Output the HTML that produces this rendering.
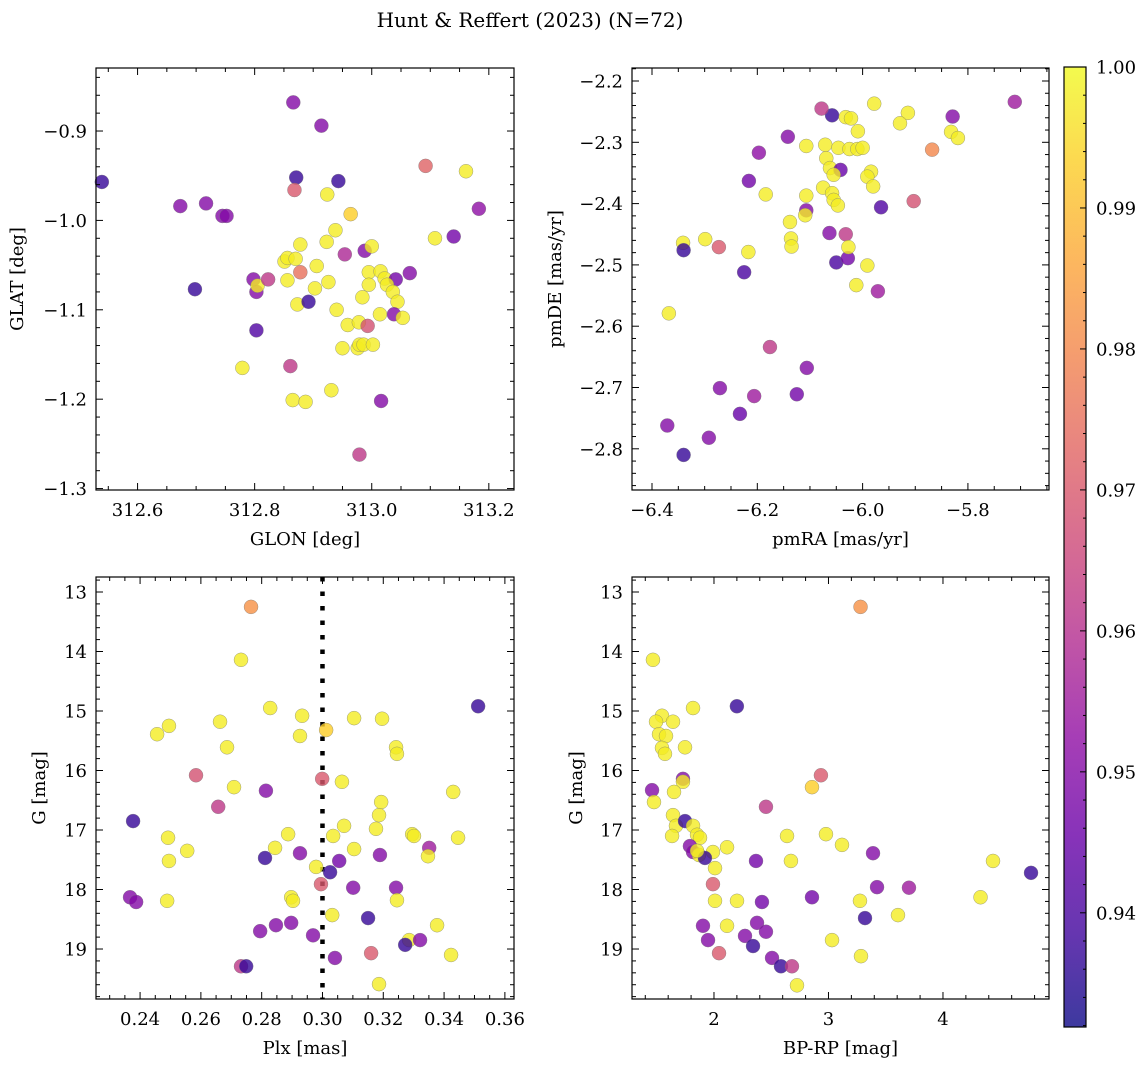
<!DOCTYPE html>
<html><head><meta charset="utf-8">
<style>
html,body{margin:0;padding:0;background:#fff;}
svg{display:block;font-family:"DejaVu Serif","Liberation Serif",serif;}
</style></head>
<body>
<svg id="fig" width="1148" height="1067" viewBox="0 0 1148 1067" xmlns="http://www.w3.org/2000/svg">
<text x="530" y="27" font-size="20" text-anchor="middle">Hunt &amp; Reffert (2023) (N=72)</text>
</svg>
<script>
// ---- Panel 1: GLON vs GLAT ----
const p1Glon=[312.539,312.673,312.717,312.745,312.752,312.698,312.798,312.803,312.803,312.805,312.823,312.779,312.866,312.871,312.868,312.914,312.943,312.924,312.964,313.092,313.161,313.183,313.108,313.140,312.878,312.923,312.938,312.954,312.988,313.000,312.851,312.856,312.870,312.906,312.878,312.856,312.926,312.995,313.015,313.022,313.041,313.065,313.026,313.036,312.995,312.903,312.873,312.892,312.984,313.044,312.940,313.014,313.038,313.053,312.959,312.978,312.993,312.950,312.976,312.979,312.986,313.002,312.931,312.861,312.865,312.887,313.016,312.979];
const p1Glat=[-0.957,-0.984,-0.981,-0.995,-0.995,-1.077,-1.066,-1.080,-1.123,-1.073,-1.066,-1.165,-0.868,-0.952,-0.966,-0.894,-0.956,-0.971,-0.993,-0.939,-0.945,-0.987,-1.020,-1.018,-1.027,-1.024,-1.011,-1.038,-1.034,-1.029,-1.046,-1.042,-1.043,-1.051,-1.058,-1.067,-1.069,-1.058,-1.057,-1.065,-1.066,-1.059,-1.072,-1.080,-1.072,-1.076,-1.094,-1.091,-1.086,-1.091,-1.100,-1.105,-1.105,-1.109,-1.117,-1.114,-1.118,-1.143,-1.143,-1.139,-1.139,-1.139,-1.190,-1.163,-1.201,-1.203,-1.202,-1.262];
const p1Prob=[0.937,0.950,0.950,0.950,0.950,0.937,0.950,0.950,0.941,0.998,0.962,0.998,0.950,0.937,0.970,0.950,0.937,0.998,0.993,0.972,0.998,0.952,0.998,0.947,0.998,0.998,0.998,0.958,0.950,0.998,0.998,0.998,0.998,0.998,0.975,0.998,0.998,0.998,0.998,0.998,0.947,0.950,0.998,0.998,0.998,0.998,0.998,0.937,0.998,0.998,0.998,0.998,0.950,0.998,0.998,0.998,0.968,0.998,0.998,0.998,0.998,0.998,0.998,0.962,0.998,0.998,0.950,0.962];
// ---- Panel 2: pmRA vs pmDE ----
const p2Pmra=[-5.711,-5.829,-5.868,-5.903,-5.965,-6.058,-6.078,-5.978,-6.032,-6.022,-5.914,-5.929,-5.832,-5.819,-6.142,-6.197,-6.107,-6.071,-6.069,-6.046,-6.025,-6.010,-6.000,-6.062,-6.042,-5.984,-5.991,-6.055,-6.075,-6.058,-6.055,-6.047,-6.107,-5.980,-6.184,-6.107,-6.109,-6.138,-6.136,-6.135,-6.216,-6.299,-6.341,-6.340,-6.273,-6.217,-6.225,-6.063,-6.032,-6.050,-6.028,-6.027,-5.991,-6.012,-5.971,-6.368,-6.176,-6.106,-6.271,-6.125,-6.206,-6.233,-6.371,-6.292,-6.340,-6.009];
const p2Pmde=[-2.234,-2.258,-2.312,-2.396,-2.406,-2.256,-2.245,-2.237,-2.259,-2.261,-2.252,-2.269,-2.283,-2.293,-2.291,-2.317,-2.306,-2.304,-2.326,-2.309,-2.311,-2.311,-2.309,-2.342,-2.345,-2.348,-2.356,-2.353,-2.374,-2.383,-2.394,-2.403,-2.387,-2.372,-2.385,-2.411,-2.419,-2.430,-2.457,-2.470,-2.363,-2.458,-2.464,-2.476,-2.471,-2.479,-2.512,-2.448,-2.450,-2.496,-2.489,-2.471,-2.501,-2.533,-2.543,-2.579,-2.634,-2.668,-2.701,-2.711,-2.714,-2.743,-2.762,-2.782,-2.810,-2.282];
const p2Prob=[0.955,0.950,0.980,0.968,0.941,0.937,0.962,0.998,0.998,0.998,0.998,0.998,0.998,0.998,0.950,0.952,0.998,0.998,0.998,0.998,0.998,0.998,0.998,0.998,0.945,0.998,0.998,0.998,0.998,0.998,0.998,0.998,0.998,0.998,0.998,0.950,0.998,0.998,0.998,0.998,0.947,0.998,0.998,0.937,0.970,0.998,0.940,0.950,0.962,0.940,0.947,0.998,0.998,0.998,0.955,0.998,0.962,0.950,0.950,0.947,0.955,0.945,0.950,0.950,0.937,0.998];
// ---- Panel 3: Plx vs G ----
const p3Plx=[0.2765,0.2732,0.3512,0.2828,0.2933,0.2495,0.2663,0.3104,0.3196,0.2456,0.2926,0.3012,0.2686,0.3242,0.3245,0.2584,0.2999,0.3064,0.2709,0.2814,0.3430,0.2657,0.3193,0.3186,0.2377,0.3071,0.3176,0.3351,0.2887,0.3295,0.3301,0.3035,0.2492,0.3446,0.2844,0.3104,0.2555,0.2926,0.3189,0.3347,0.2811,0.2495,0.3055,0.2979,0.3025,0.2995,0.3101,0.3242,0.2897,0.2367,0.2387,0.2489,0.2903,0.3245,0.3032,0.3150,0.2847,0.2897,0.3377,0.2795,0.2969,0.3285,0.3321,0.3272,0.3160,0.3423,0.3041,0.2732,0.2749,0.3186];
const p3G=[13.25,14.14,14.92,14.95,15.08,15.25,15.18,15.12,15.13,15.39,15.42,15.32,15.61,15.61,15.72,16.08,16.14,16.19,16.28,16.34,16.36,16.61,16.53,16.75,16.85,16.93,16.98,17.30,17.07,17.07,17.10,17.10,17.13,17.13,17.30,17.32,17.35,17.39,17.42,17.44,17.47,17.52,17.52,17.62,17.71,17.91,17.97,17.97,18.13,18.13,18.21,18.19,18.19,18.18,18.43,18.48,18.60,18.56,18.60,18.70,18.77,18.85,18.85,18.93,19.07,19.10,19.15,19.29,19.29,19.59];
const p3Prob=[0.982,0.998,0.937,0.998,0.998,0.998,0.998,0.998,0.998,0.998,0.998,0.993,0.998,0.998,0.998,0.968,0.970,0.998,0.998,0.950,0.998,0.962,0.998,0.998,0.937,0.998,0.998,0.955,0.998,0.998,0.998,0.998,0.998,0.998,0.998,0.998,0.998,0.950,0.950,0.998,0.937,0.998,0.947,0.998,0.937,0.970,0.950,0.950,0.998,0.950,0.950,0.998,0.998,0.998,0.998,0.937,0.950,0.950,0.998,0.950,0.950,0.998,0.950,0.937,0.970,0.998,0.950,0.962,0.937,0.998];
// ---- Panel 4: BP-RP vs G ----
const p4Bprp=[3.28,1.467,2.20,1.817,1.546,1.494,1.642,1.520,1.581,1.546,1.572,1.747,1.459,1.729,1.729,1.651,2.934,2.856,1.476,2.454,1.642,1.668,1.747,1.817,1.634,1.852,1.878,2.978,2.638,3.118,1.790,1.817,1.869,2.114,1.991,1.921,1.852,3.389,2.672,2.367,4.437,2.009,4.769,1.991,3.424,3.703,2.856,2.009,2.201,2.419,3.275,4.328,3.607,3.319,2.114,1.904,2.376,2.454,2.271,1.948,3.031,2.341,2.044,3.284,2.507,2.585,2.681,2.725];
const p4G=[13.25,14.14,14.92,14.95,15.08,15.18,15.18,15.39,15.42,15.62,15.72,15.61,16.33,16.14,16.19,16.36,16.08,16.28,16.53,16.61,16.75,16.93,16.85,16.93,17.10,17.08,17.13,17.07,17.10,17.25,17.27,17.37,17.42,17.29,17.37,17.47,17.35,17.39,17.52,17.52,17.52,17.64,17.72,17.91,17.96,17.97,18.13,18.19,18.19,18.21,18.19,18.13,18.43,18.48,18.61,18.61,18.56,18.71,18.78,18.85,18.85,18.95,19.07,19.12,19.15,19.29,19.29,19.61];
const p4Prob=[0.982,0.998,0.937,0.998,0.998,0.998,0.998,0.998,0.998,0.998,0.998,0.998,0.950,0.950,0.998,0.998,0.970,0.993,0.998,0.962,0.998,0.998,0.937,0.998,0.998,0.998,0.998,0.998,0.998,0.998,0.950,0.950,0.998,0.998,0.998,0.937,0.998,0.950,0.998,0.947,0.998,0.998,0.937,0.970,0.950,0.955,0.947,0.998,0.998,0.947,0.998,0.998,0.998,0.937,0.998,0.950,0.950,0.950,0.950,0.950,0.998,0.937,0.970,0.998,0.950,0.937,0.962,0.998];
// ---- Tick labels ----
const p1XTicks=[312.6,312.8,313.0,313.2];
const p1YTicks=[-0.9,-1.0,-1.1,-1.2,-1.3];
const p2XTicks=[-6.4,-6.2,-6.0,-5.8];
const p2YTicks=[-2.2,-2.3,-2.4,-2.5,-2.6,-2.7,-2.8];
const p3XTicks=[0.24,0.26,0.28,0.30,0.32,0.34,0.36];
const gTicks=[13,14,15,16,17,18,19];
const p4XTicks=[2,3,4];
const cbTicks=[0.94,0.95,0.96,0.97,0.98,0.99,1.00];
const plxRef=0.30;
const cMin=0.9319, cMax=1.0;

const NS="http://www.w3.org/2000/svg";
const svg=document.getElementById('fig');
function mk(tag,attrs,parent){const e=document.createElementNS(NS,tag);for(const k in attrs)e.setAttribute(k,attrs[k]);(parent||svg).appendChild(e);return e;}
const plasma=[[13,8,135],[65,4,157],[106,0,168],[143,13,164],[177,42,144],[204,71,120],[225,100,98],[242,132,75],[252,166,54],[252,206,37],[240,249,33]];
function cmap(v){let t=(v-cMin)/(cMax-cMin);t=Math.max(0,Math.min(1,t));const s=t*10,i=Math.min(9,Math.floor(s)),f=s-i;const a=plasma[i],b=plasma[i+1];return 'rgb('+a.map((c,k)=>Math.round(c+(b[k]-c)*f)).join(',')+')';}
function fmt(v,d){return (v<0?'\u2212':'')+Math.abs(v).toFixed(d);}
const FS=18;

function panel(o){
  const g=mk('g',{});
  
  
  const sx=v=>o.x0+(v-o.xd[0])/(o.xd[1]-o.xd[0])*(o.x1-o.x0);
  const sy=v=>o.y0+(v-o.yd[0])/(o.yd[1]-o.yd[0])*(o.y1-o.y0);
  if(o.vline!==undefined){const l=mk('line',{x1:sx(o.vline),x2:sx(o.vline),y1:o.y0,y2:o.y1,stroke:'#000','stroke-width':4.5,'stroke-dasharray':'4.5,10'},g);}
  for(let i=0;i<o.xs.length;i++){
    const c=mk('circle',{cx:sx(o.xs[i]),cy:sy(o.ys[i]),r:7,fill:cmap(o.cs[i]),'fill-opacity':0.8,stroke:'#777','stroke-width':0.5,'stroke-opacity':0.7},g);
    
    
  }
  mk('rect',{x:o.x0,y:o.y0,width:o.x1-o.x0,height:o.y1-o.y0,fill:'none',stroke:'#000','stroke-width':1.2},g);
  const xlo=Math.min(...o.xd),xhi=Math.max(...o.xd);
  for(let v=Math.ceil(xlo/o.xmin-1e-6)*o.xmin;v<=xhi+1e-9;v+=o.xmin){const X=sx(v);
    const major=Math.abs(v/o.xmaj-Math.round(v/o.xmaj))<1e-4;const L=major?7:4;
    mk('line',{x1:X,x2:X,y1:o.y1,y2:o.y1-L,stroke:'#000','stroke-width':1},g);mk('line',{x1:X,x2:X,y1:o.y0,y2:o.y0+L,stroke:'#000','stroke-width':1},g);}
  const ylo=Math.min(...o.yd),yhi=Math.max(...o.yd);
  for(let v=Math.ceil(ylo/o.ymin-1e-6)*o.ymin;v<=yhi+1e-9;v+=o.ymin){const Y=sy(v);
    const major=Math.abs(v/o.ymaj-Math.round(v/o.ymaj))<1e-4;const L=major?7:4;
    mk('line',{x1:o.x0,x2:o.x0+L,y1:Y,y2:Y,stroke:'#000','stroke-width':1},g);mk('line',{x1:o.x1,x2:o.x1-L,y1:Y,y2:Y,stroke:'#000','stroke-width':1},g);}
  o.xt.forEach(v=>{const t=mk('text',{x:sx(v),y:o.y1+26,'font-size':FS,'text-anchor':'middle'},g);t.textContent=fmt(v,o.xdec);});
  o.yt.forEach(v=>{const t=mk('text',{x:o.x0-9,y:sy(v)+6.5,'font-size':FS,'text-anchor':'end'},g);t.textContent=fmt(v,o.ydec);});
  const xl=mk('text',{x:(o.x0+o.x1)/2,y:o.y1+55,'font-size':FS,'text-anchor':'middle'},g);xl.textContent=o.xlab;
  const yl=mk('text',{x:o.ylx,y:(o.y0+o.y1)/2,'font-size':FS,'text-anchor':'middle',transform:'rotate(-90 '+o.ylx+' '+(o.y0+o.y1)/2+')'},g);yl.textContent=o.ylab;
}

panel({name:'glon-glat-panel',x0:96,x1:514,y0:68,y1:490,xd:[312.529,313.243],yd:[-0.8295,-1.3016],xs:p1Glon,ys:p1Glat,cs:p1Prob,xmaj:0.2,xmin:0.05,ymaj:0.1,ymin:0.02,xt:p1XTicks,yt:p1YTicks,xdec:1,ydec:1,xlab:'GLON [deg]',ylab:'GLAT [deg]',ylx:23});
panel({name:'proper-motion-panel',x0:632,x1:1049,y0:68,y1:490,xd:[-6.438,-5.646],yd:[-2.1788,-2.8672],xs:p2Pmra,ys:p2Pmde,cs:p2Prob,xmaj:0.2,xmin:0.05,ymaj:0.1,ymin:0.02,xt:p2XTicks,yt:p2YTicks,xdec:1,ydec:1,xlab:'pmRA [mas/yr]',ylab:'pmDE [mas/yr]',ylx:561});
panel({name:'parallax-magnitude-panel',x0:96,x1:514,y0:577,y1:999,xd:[0.2255,0.363],yd:[12.748,19.84],xs:p3Plx,ys:p3G,cs:p3Prob,xmaj:0.02,xmin:0.005,ymaj:1,ymin:0.2,xt:p3XTicks,yt:gTicks,xdec:2,ydec:0,xlab:'Plx [mas]',ylab:'G [mag]',ylx:45,vline:plxRef});
panel({name:'color-magnitude-panel',x0:632,x1:1049,y0:577,y1:999,xd:[1.284,4.926],yd:[12.748,19.84],xs:p4Bprp,ys:p4G,cs:p4Prob,xmaj:1,xmin:0.2,ymaj:1,ymin:0.2,xt:p4XTicks,yt:gTicks,xdec:0,ydec:0,xlab:'BP-RP [mag]',ylab:'G [mag]',ylx:582});

(function(){
  const g=mk('g',{});
  
  
  const x0=1064,x1=1086,y0=67,y1=1027;
  const defs=mk('defs',{},g);const lg=mk('linearGradient',{id:'cbg',x1:0,y1:1,x2:0,y2:0},defs);
  for(let i=0;i<=20;i++){mk('stop',{offset:i/20,'stop-color':cmap(cMin+(cMax-cMin)*i/20),'stop-opacity':0.8},lg);}
  mk('rect',{x:x0,y:y0,width:x1-x0,height:y1-y0,fill:'url(#cbg)',stroke:'#000','stroke-width':1.2},g);
  const sy=v=>y1-(v-cMin)/(cMax-cMin)*(y1-y0);
  for(let v=0.932;v<=1.0001;v+=0.002){const Y=sy(v);const major=Math.abs(v*100-Math.round(v*100))<1e-3;mk('line',{x1:x1,x2:x1-(major?6:3),y1:Y,y2:Y,stroke:'#000','stroke-width':1},g);}
  cbTicks.forEach(v=>{const t=mk('text',{x:1096,y:sy(v)+6.5,'font-size':FS},g);t.textContent=v.toFixed(2);});
})();
</script>
</body></html>
